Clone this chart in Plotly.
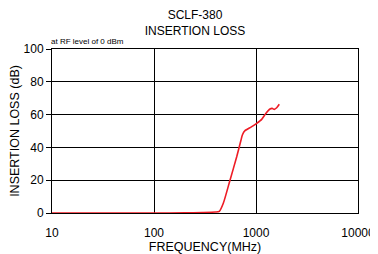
import plotly.graph_objects as go

freq_mhz = [10, 50, 100, 200, 300, 400, 437, 478, 556, 647, 713, 735, 780, 900, 1016, 1137, 1253, 1371, 1440, 1510, 1595, 1692]
loss_db = [0.0, 0.0, 0.0, 0.1, 0.3, 0.6, 1.0, 5.9, 20.0, 34.3, 44.5, 47.6, 50.2, 52.5, 54.7, 57.1, 60.8, 63.4, 63.8, 63.2, 64.2, 66.3]

x_ticks = [10, 100, 1000, 10000]
x_labels = ["10", "100", "1000", "10000"]
y_ticks = [0, 20, 40, 60, 80, 100]

# page body has an 8px default margin; figure sized to fill the rest of the window
W, H = 370, 246

fig = go.Figure()
fig.add_trace(go.Scatter(x=freq_mhz, y=loss_db, mode="lines",
                         line=dict(color="#ee1c25", width=1.6, shape="spline", smoothing=0.6),
                         showlegend=False, hoverinfo="skip"))

fig.update_layout(
    width=W, height=H,
    margin=dict(l=44, r=20, t=41, b=41, pad=0, autoexpand=False),
    paper_bgcolor="white", plot_bgcolor="white",
    font=dict(family="Liberation Sans, Arial, sans-serif", size=12, color="black"),
    title=dict(text="SCLF-380<br>INSERTION LOSS", x=187 / W, xanchor="center",
               yref="container", y=1 - 11 / H, yanchor="top", font=dict(size=12)),
    xaxis=dict(type="log", range=[1, 4], tickvals=x_ticks, ticktext=x_labels,
               showgrid=True, gridcolor="black", gridwidth=1,
               showline=True, linecolor="black", linewidth=1, mirror=True,
               ticks="outside", ticklen=9, tickcolor="rgba(0,0,0,0)", zeroline=False, automargin=False,
               title=dict(text="FREQUENCY(MHz)", standoff=9, font=dict(size=12.5)),
               tickfont=dict(size=12)),
    yaxis=dict(range=[0, 100], tickvals=y_ticks,
               showgrid=True, gridcolor="black", gridwidth=1,
               showline=True, linecolor="black", linewidth=1, mirror=True,
               ticks="outside", ticklen=5, tickcolor="black", zeroline=False, automargin=False,
               title=dict(text="INSERTION LOSS (dB)", standoff=13, font=dict(size=12.5)),
               tickfont=dict(size=12)),
    annotations=[dict(text="at RF level of 0 dBm", xref="paper", yref="paper",
                      x=0, y=1, xanchor="left", yanchor="bottom", showarrow=False,
                      font=dict(size=8), xshift=-3, yshift=1)],
)

fig.write_html("out.html")
